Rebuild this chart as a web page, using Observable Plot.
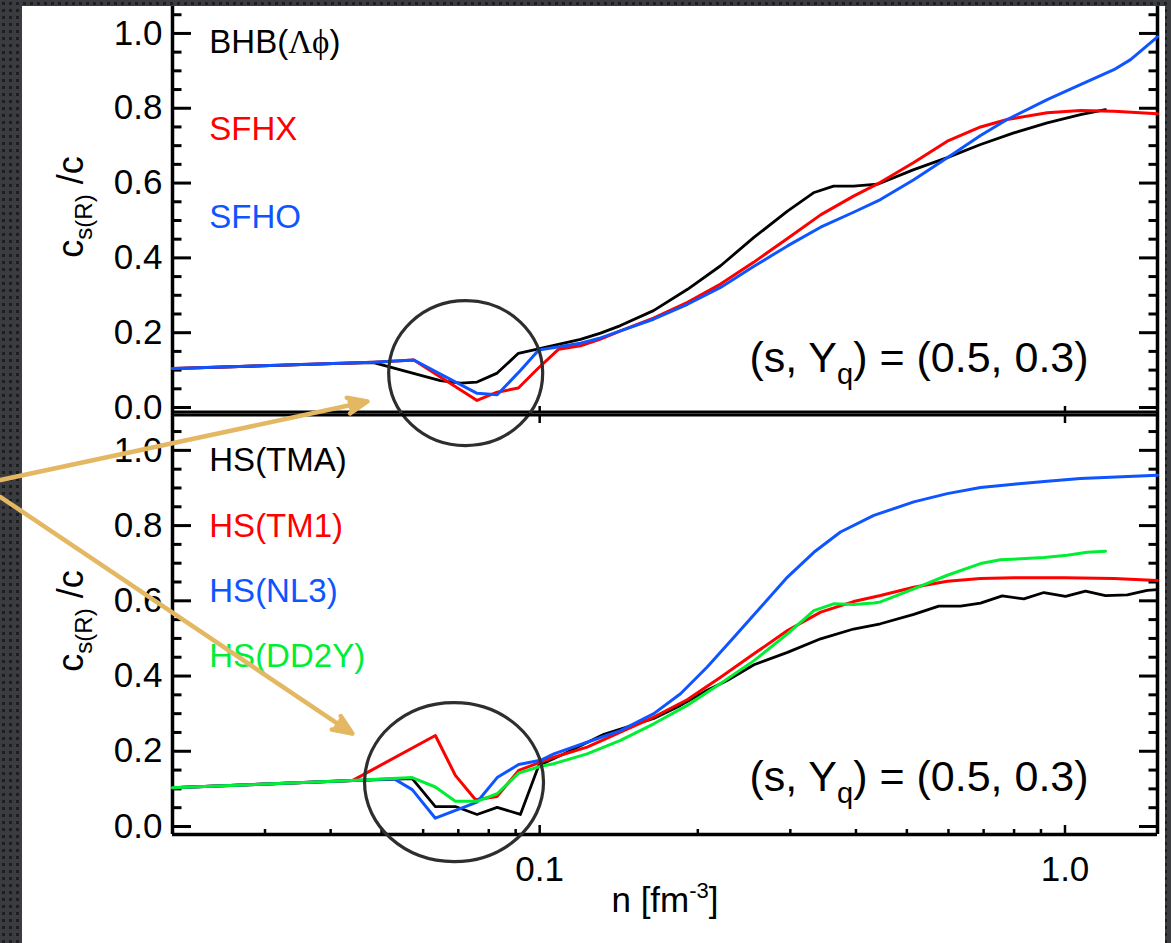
<!DOCTYPE html>
<html>
<head>
<meta charset="utf-8">
<script src="https://cdn.jsdelivr.net/npm/d3@7"></script>
<script src="https://cdn.jsdelivr.net/npm/@observablehq/plot@0.6"></script>
<style>
html, body { margin: 0; padding: 0; }
body {
  width: 1171px; height: 943px; overflow: hidden; position: relative;
  background-color: #3a3c40;
  background-image: radial-gradient(circle, #1d1e21 1.4px, transparent 2px);
  background-size: 7px 7px;
  font-family: "Liberation Sans", Arial, sans-serif;
}
#paper { position: absolute; left: 22px; top: 6px; width: 1143px; height: 937px; background: #fff; }
#upper, #lower { position: absolute; left: 0; width: 1171px; }
#upper { top: 0; }
#lower { top: 413px; }
svg { overflow: visible; }
</style>
</head>
<body>
<div id="paper"></div>
<div id="upper"></div>
<div id="lower"></div>
<script>
// ---------- data (n [fm^-3], c_s(R)/c) ----------
const upperBHB = [[0.02,0.104],[0.0418,0.118],[0.0483,0.120],[0.0647,0.072],[0.0707,0.065],[0.076,0.068],[0.083,0.092],[0.0911,0.145],[0.099,0.156],[0.1096,0.170],[0.1196,0.182],[0.1306,0.199],[0.1425,0.219],[0.1647,0.259],[0.1912,0.316],[0.221,0.379],[0.2554,0.454],[0.2963,0.525],[0.332,0.574],[0.3626,0.592],[0.3958,0.592],[0.4397,0.597],[0.5154,0.636],[0.597,0.668],[0.6906,0.703],[0.799,0.734],[0.925,0.761],[1.07,0.783],[1.194,0.796]];
const upperSFHX = [[0.02,0.104],[0.0418,0.118],[0.0483,0.121],[0.0576,0.127],[0.076,0.019],[0.083,0.041],[0.0911,0.052],[0.099,0.103],[0.1087,0.156],[0.1196,0.165],[0.1306,0.183],[0.1425,0.205],[0.1647,0.239],[0.1912,0.281],[0.221,0.33],[0.2554,0.388],[0.2963,0.452],[0.3426,0.515],[0.3958,0.565],[0.4454,0.602],[0.5154,0.655],[0.597,0.712],[0.6906,0.75],[0.776,0.77],[0.925,0.788],[1.07,0.794],[1.239,0.792],[1.5,0.785]];
const upperSFHO = [[0.02,0.104],[0.0418,0.118],[0.0483,0.121],[0.0576,0.127],[0.076,0.038],[0.083,0.034],[0.0919,0.099],[0.0996,0.154],[0.1096,0.163],[0.1196,0.172],[0.1306,0.186],[0.1425,0.205],[0.1647,0.236],[0.1912,0.276],[0.221,0.321],[0.2554,0.377],[0.2963,0.432],[0.3426,0.482],[0.3958,0.522],[0.4454,0.556],[0.5154,0.609],[0.597,0.668],[0.6906,0.727],[0.776,0.770],[0.925,0.823],[1.07,0.863],[1.239,0.903],[1.333,0.93],[1.5,0.991]];

const lowerTMA = [[0.02,0.103],[0.044,0.122],[0.0572,0.127],[0.0633,0.053],[0.0691,0.053],[0.076,0.032],[0.083,0.051],[0.0919,0.032],[0.0996,0.162],[0.1111,0.193],[0.1325,0.245],[0.1649,0.287],[0.1854,0.322],[0.2084,0.362],[0.2275,0.388],[0.2558,0.430],[0.2963,0.463],[0.3426,0.499],[0.3958,0.525],[0.4454,0.539],[0.5154,0.564],[0.5751,0.586],[0.6326,0.586],[0.6906,0.594],[0.7596,0.613],[0.835,0.605],[0.9116,0.622],[1.0024,0.612],[1.094,0.626],[1.194,0.614],[1.314,0.616],[1.434,0.628],[1.5,0.630]];
const lowerTM1 = [[0.02,0.103],[0.044,0.122],[0.0633,0.242],[0.0691,0.136],[0.0755,0.071],[0.083,0.080],[0.0912,0.149],[0.1004,0.171],[0.1064,0.184],[0.1231,0.211],[0.1425,0.251],[0.1649,0.291],[0.1909,0.337],[0.221,0.397],[0.2558,0.459],[0.2963,0.521],[0.3426,0.570],[0.3958,0.598],[0.4454,0.614],[0.5154,0.636],[0.597,0.652],[0.6906,0.659],[0.799,0.661],[1.0,0.661],[1.239,0.659],[1.5,0.654]];
const lowerNL3 = [[0.02,0.103],[0.044,0.122],[0.0528,0.127],[0.0572,0.098],[0.0633,0.022],[0.076,0.065],[0.083,0.130],[0.0912,0.165],[0.1004,0.176],[0.1064,0.193],[0.1231,0.224],[0.1425,0.255],[0.1649,0.30],[0.1854,0.353],[0.2084,0.424],[0.2343,0.503],[0.2634,0.583],[0.2963,0.663],[0.3326,0.729],[0.3738,0.783],[0.4326,0.827],[0.5154,0.863],[0.597,0.885],[0.6906,0.901],[0.799,0.910],[0.925,0.918],[1.07,0.925],[1.5,0.934]];
const lowerDD2Y = [[0.02,0.103],[0.044,0.122],[0.0572,0.130],[0.0633,0.105],[0.0691,0.067],[0.076,0.067],[0.083,0.087],[0.0912,0.142],[0.1004,0.160],[0.1064,0.167],[0.1231,0.193],[0.1425,0.229],[0.1649,0.273],[0.1909,0.322],[0.221,0.380],[0.2558,0.441],[0.2963,0.512],[0.3326,0.574],[0.3626,0.592],[0.3958,0.590],[0.4326,0.594],[0.4454,0.597],[0.5154,0.632],[0.597,0.668],[0.6906,0.699],[0.7538,0.709],[0.9116,0.715],[1.0098,0.721],[1.1025,0.729],[1.194,0.732]];

const upperNames = ["BHB(Λϕ)", "SFHX", "SFHO"];
const lowerNames = ["HS(TMA)", "HS(TM1)", "HS(NL3)", "HS(DD2Y)"];
const yMajor = [0, 0.2, 0.4, 0.6, 0.8, 1.0];
const yMinor = [0.05,0.1,0.15,0.25,0.3,0.35,0.45,0.5,0.55,0.65,0.7,0.75,0.85,0.9,0.95,1.05];
const xMajor = [0.1, 1.0];
const xMinor = [0.03,0.04,0.05,0.06,0.07,0.08,0.09,0.2,0.3,0.4,0.5,0.6,0.7,0.8,0.9];
const annotation = "(s, Yq) = (0.5, 0.3)";
const yLabel = "cs(R) /c";
const xLabel = "n [fm-3]";

// ---------- layout / style ----------
const FONT = "'Liberation Sans', Arial, Helvetica, sans-serif";
const BLACK = "#000000", RED = "#ff0000", BLUE = "#0f55ff", GREEN = "#00ee33", GOLD = "#e4b862", RING = "#2e2e2e";
const upperColors = [BLACK, RED, BLUE];
const lowerColors = [BLACK, RED, BLUE, GREEN];
const xDomain = [0.02, 1.5];
const upperY = [-0.016, 1.072];
const lowerY = [-0.0213, 1.098];
const legendX = 0.0235;
const upperLegendY = [0.975, 0.744, 0.5085];
const lowerLegendY = [0.974, 0.798, 0.626, 0.451];
const annotX = 1.109, upperAnnotY = 0.133, lowerAnnotY = 0.130;

// ellipse-shaped symbol for the highlight rings
function ellipseSymbol(ax, ay) {
  return {draw(ctx, size) {
    const r = Math.sqrt(size / Math.PI), rx = r * ax, ry = r * ay, k = 0.5523;
    ctx.moveTo(rx, 0);
    ctx.bezierCurveTo(rx, ry * k, rx * k, ry, 0, ry);
    ctx.bezierCurveTo(-rx * k, ry, -rx, ry * k, -rx, 0);
    ctx.bezierCurveTo(-rx, -ry * k, -rx * k, -ry, 0, -ry);
    ctx.bezierCurveTo(rx * k, -ry, rx, -ry * k, rx, 0);
    ctx.closePath();
  }};
}

function frameMarks() {
  return [
    Plot.ruleX([xDomain[0]], {stroke: BLACK, strokeWidth: 3.5}),
    Plot.ruleX([xDomain[1]], {stroke: BLACK, strokeWidth: 3.5}),
    Plot.axisY(yMajor, {anchor: "left", tickSize: 19, dx: 19, strokeWidth: 3, fill: "none", label: null}),
    Plot.axisY(yMinor, {anchor: "left", tickSize: 9.5, dx: 9.5, strokeWidth: 3, fill: "none", label: null}),
    Plot.axisY(yMajor, {anchor: "right", tickSize: 19, dx: -19, strokeWidth: 3, fill: "none", label: null}),
    Plot.axisY(yMinor, {anchor: "right", tickSize: 9.5, dx: -9.5, strokeWidth: 3, fill: "none", label: null}),
    Plot.axisY(yMajor, {anchor: "left", tickSize: 0, tickPadding: 10, tickFormat: ".1f", fontSize: 35, label: null}),
    Plot.text([yLabel], {text: d => d, frameAnchor: "left", dx: -101, dy: -3, rotate: -90, fontSize: 36, textAnchor: "middle"})
  ];
}
function lineMark(data, color, w = 3) {
  return Plot.line(data, {x: d => d[0], y: d => d[1], stroke: color, strokeWidth: w, strokeLinejoin: "round"});
}
function legendMarks(names, ys, colors) {
  return names.map((name, i) => Plot.text([name], {x: () => legendX, y: () => ys[i], text: d => d, fill: colors[i], textAnchor: "start", fontSize: 33}));
}

const upper = Plot.plot({
  width: 1171, height: 413, marginLeft: 172, marginRight: 14, marginTop: 6, marginBottom: 0,
  style: {fontFamily: FONT, fontSize: "35px", background: "transparent", overflow: "visible", color: BLACK},
  x: {type: "log", domain: xDomain},
  y: {domain: upperY},
  marks: [
    ...frameMarks(),
    Plot.ruleY([upperY[0]], {stroke: BLACK, strokeWidth: 3, dy: -1.5}),
    Plot.axisX(xMajor, {anchor: "bottom", tickSize: 7, dy: -7, strokeWidth: 2.5, fill: "none", label: null}),
    lineMark(upperBHB, BLACK, 2.8),
    lineMark(upperSFHX, RED),
    lineMark(upperSFHO, BLUE),
    ...legendMarks(upperNames, upperLegendY, upperColors),
    Plot.text([annotation], {x: () => annotX, y: () => upperAnnotY, text: d => d, textAnchor: "end", fontSize: 43}),
    Plot.dot([[0.0723, 0.092]], {x: d => d[0], y: d => d[1], r: 75, symbol: ellipseSymbol(77 / 75, 72.5 / 75), stroke: RING, strokeWidth: 3.2, fill: "none"})
  ]
});

const lower = Plot.plot({
  width: 1171, height: 530, marginLeft: 172, marginRight: 14, marginTop: 0, marginBottom: 109,
  style: {fontFamily: FONT, fontSize: "35px", background: "transparent", overflow: "visible", color: BLACK},
  x: {type: "log", domain: xDomain},
  y: {domain: lowerY},
  marks: [
    ...frameMarks(),
    Plot.ruleY([lowerY[1]], {stroke: BLACK, strokeWidth: 3, dy: 1.5}),
    Plot.ruleY([lowerY[0]], {stroke: BLACK, strokeWidth: 3.5}),
    Plot.axisX(xMajor, {anchor: "top", tickSize: 9, dy: 9, strokeWidth: 2.5, fill: "none", label: null}),
    Plot.axisX(xMajor, {anchor: "bottom", tickSize: 9, dy: -9, strokeWidth: 2.5, fill: "none", label: null}),
    Plot.axisX(xMinor, {anchor: "bottom", tickSize: 5, dy: -5, strokeWidth: 2.5, fill: "none", label: null}),
    Plot.axisX(xMajor, {anchor: "bottom", tickSize: 0, tickPadding: 22, tickFormat: ".1f", fontSize: 35, label: null}),
    Plot.text([xLabel], {text: d => d, frameAnchor: "bottom", dy: 77, fontSize: 35, textAnchor: "middle"}),
    lineMark(lowerTMA, BLACK, 2.8),
    lineMark(lowerTM1, RED),
    lineMark(lowerNL3, BLUE),
    lineMark(lowerDD2Y, GREEN),
    ...legendMarks(lowerNames, lowerLegendY, lowerColors),
    Plot.text([annotation], {x: () => annotX, y: () => lowerAnnotY, text: d => d, textAnchor: "end", fontSize: 43}),
    Plot.dot([[0.0687, 0.118]], {x: d => d[0], y: d => d[1], r: 84.5, symbol: ellipseSymbol(89.5 / 84.5, 79.5 / 84.5), stroke: RING, strokeWidth: 3.2, fill: "none"}),
    Plot.arrow([[0.00941, 0.921, 0.0470, 1.130], [0.00941, 0.876, 0.0440, 0.247]], {
      x1: d => d[0], y1: d => d[1], x2: d => d[2], y2: d => d[3],
      stroke: GOLD, fill: GOLD, strokeWidth: 4.5, headLength: 7, headAngle: 45
    })
  ]
});

// rich text (sub/superscripts, Greek)
function rich(svg, match, build) {
  d3.select(svg).selectAll("text").filter(function() { return this.textContent === match; })
    .each(function() { const t = d3.select(this); t.text(""); build(t); });
}
for (const svg of [upper, lower]) {
  rich(svg, yLabel, t => {
    t.append("tspan").text("c");
    t.append("tspan").attr("font-size", 24).attr("dy", 9).text("s(R)");
    t.append("tspan").attr("dy", -9).text(" /c");
  });
  rich(svg, annotation, t => {
    t.append("tspan").text("(s, Y");
    t.append("tspan").attr("font-size", 29).attr("dy", 12).text("q");
    t.append("tspan").attr("dy", -12).text(") = (0.5, 0.3)");
  });
}
rich(upper, "BHB(Λϕ)", t => {
  t.append("tspan").text("BHB(");
  t.append("tspan").attr("font-family", "'Liberation Serif', 'DejaVu Serif', serif").text("Λϕ");
  t.append("tspan").text(")");
});
rich(lower, xLabel, t => {
  t.append("tspan").text("n [fm");
  t.append("tspan").attr("font-size", 22).attr("dy", -14).text("-3");
  t.append("tspan").attr("dy", 14).text("]");
});

document.getElementById("upper").append(upper);
document.getElementById("lower").append(lower);
</script>
</body>
</html>
